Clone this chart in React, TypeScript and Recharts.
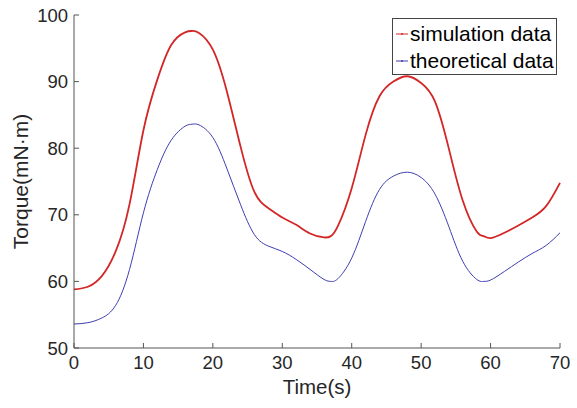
import React from 'react';
import { LineChart, Line, XAxis, YAxis } from 'recharts';

const time = [0, 2, 4, 6, 8, 10, 12, 14, 16, 17, 18, 20, 22, 24, 26, 28, 30, 32, 34, 36, 37, 38, 40, 42, 44, 46, 48, 50, 52, 54, 56, 58, 59, 60, 62, 64, 66, 68, 70];
const simulation = [58.8, 59.2, 60.8, 64.5, 71.6, 82.7, 90.3, 95.5, 97.4, 97.6, 97.3, 94.8, 88.6, 80.2, 73.4, 71.0, 69.6, 68.5, 67.2, 66.6, 66.8, 68.3, 74.0, 82.0, 87.8, 90.0, 90.8, 89.8, 87.0, 79.9, 72.1, 67.5, 66.8, 66.5, 67.3, 68.4, 69.6, 71.3, 74.8];
const theoretical = [53.6, 53.8, 54.5, 56.4, 61.8, 70.3, 76.8, 81.2, 83.3, 83.6, 83.5, 81.6, 77.0, 71.5, 67.0, 65.3, 64.5, 63.3, 61.8, 60.3, 60.0, 60.4, 63.5, 69.0, 73.8, 75.8, 76.4, 75.6, 73.1, 68.2, 63.0, 60.3, 60.0, 60.2, 61.5, 62.9, 64.2, 65.4, 67.3];
const xTicks = [0, 10, 20, 30, 40, 50, 60, 70];
const yTicks = [50, 60, 70, 80, 90, 100];

const data = time.map((t, i) => ({ t, sim: simulation[i], theo: theoretical[i] }));

const RED = '#d32626';
const BLUE = '#3e3eb0';
const AXIS = '#555';
const FONT = '"Liberation Sans", Arial, sans-serif';
const tickStyle = { fontSize: 18.5, fill: '#262626', fontFamily: FONT };

const noTick = () => <g />;

const LegendRow = ({ color, label }: { color: string; label: string }) => (
  <div style={{ display: 'flex', alignItems: 'center', height: 27 }}>
    <svg width={14} height={27} style={{ marginLeft: 2 }}>
      <line x1={1} y1={14} x2={13} y2={14} stroke={color} strokeWidth={1} />
      <circle cx={7} cy={14} r={1} fill={color} />
    </svg>
    <span style={{ marginLeft: 1 }}>{label}</span>
  </div>
);

export default function App() {
  return (
    <div style={{ position: 'relative', width: 577, height: 408, background: '#fff' }}>
      <style>{`body{margin:0}`}</style>
      <LineChart width={577} height={408} data={data} margin={{ top: 15, right: 17, bottom: 0, left: 0 }}>
        <XAxis
          dataKey="t"
          type="number"
          domain={[0, 70]}
          ticks={xTicks}
          height={60}
          tickSize={-5}
          tickMargin={13}
          stroke={AXIS}
          tick={tickStyle}
          label={{ value: 'Time(s)', position: 'insideBottom', offset: 14, style: { fontSize: 20.5, fill: '#262626', fontFamily: FONT } }}
        />
        <XAxis xAxisId="top" dataKey="t" type="number" orientation="top" domain={[0, 70]} ticks={xTicks} height={0} tickSize={-5} stroke={AXIS} tick={noTick} />
        <YAxis
          domain={[50, 100]}
          ticks={yTicks}
          width={74}
          tickSize={-5}
          tickMargin={11}
          stroke={AXIS}
          tick={tickStyle}
          label={(props: any) => {
            const vb = props.viewBox || { x: 0, y: 15, height: 333 };
            const cy = vb.y + vb.height / 2;
            return (
              <text x={28} y={cy} transform={`rotate(-90, 28, ${cy})`} textAnchor="middle" fontSize={21} fill="#262626" fontFamily={FONT}>
                Torque(mN·m)
              </text>
            );
          }}
        />
        <YAxis yAxisId="right" orientation="right" domain={[50, 100]} ticks={yTicks} width={0} tickSize={-5} stroke={AXIS} tick={noTick} />
        <Line type="natural" dataKey="theo" stroke={BLUE} strokeWidth={1} dot={false} isAnimationActive={false} />
        <Line type="natural" dataKey="sim" stroke={RED} strokeWidth={1.8} dot={false} isAnimationActive={false} />
      </LineChart>
      <div
        style={{
          position: 'absolute',
          left: 392,
          top: 18,
          width: 163,
          height: 54,
          border: '1px solid #444',
          background: '#fff',
          fontFamily: FONT,
          fontSize: 21,
          color: '#000',
          lineHeight: '27px',
          paddingTop: 1,
        }}
      >
        <LegendRow color={RED} label="simulation data" />
        <LegendRow color={BLUE} label="theoretical data" />
      </div>
    </div>
  );
}
